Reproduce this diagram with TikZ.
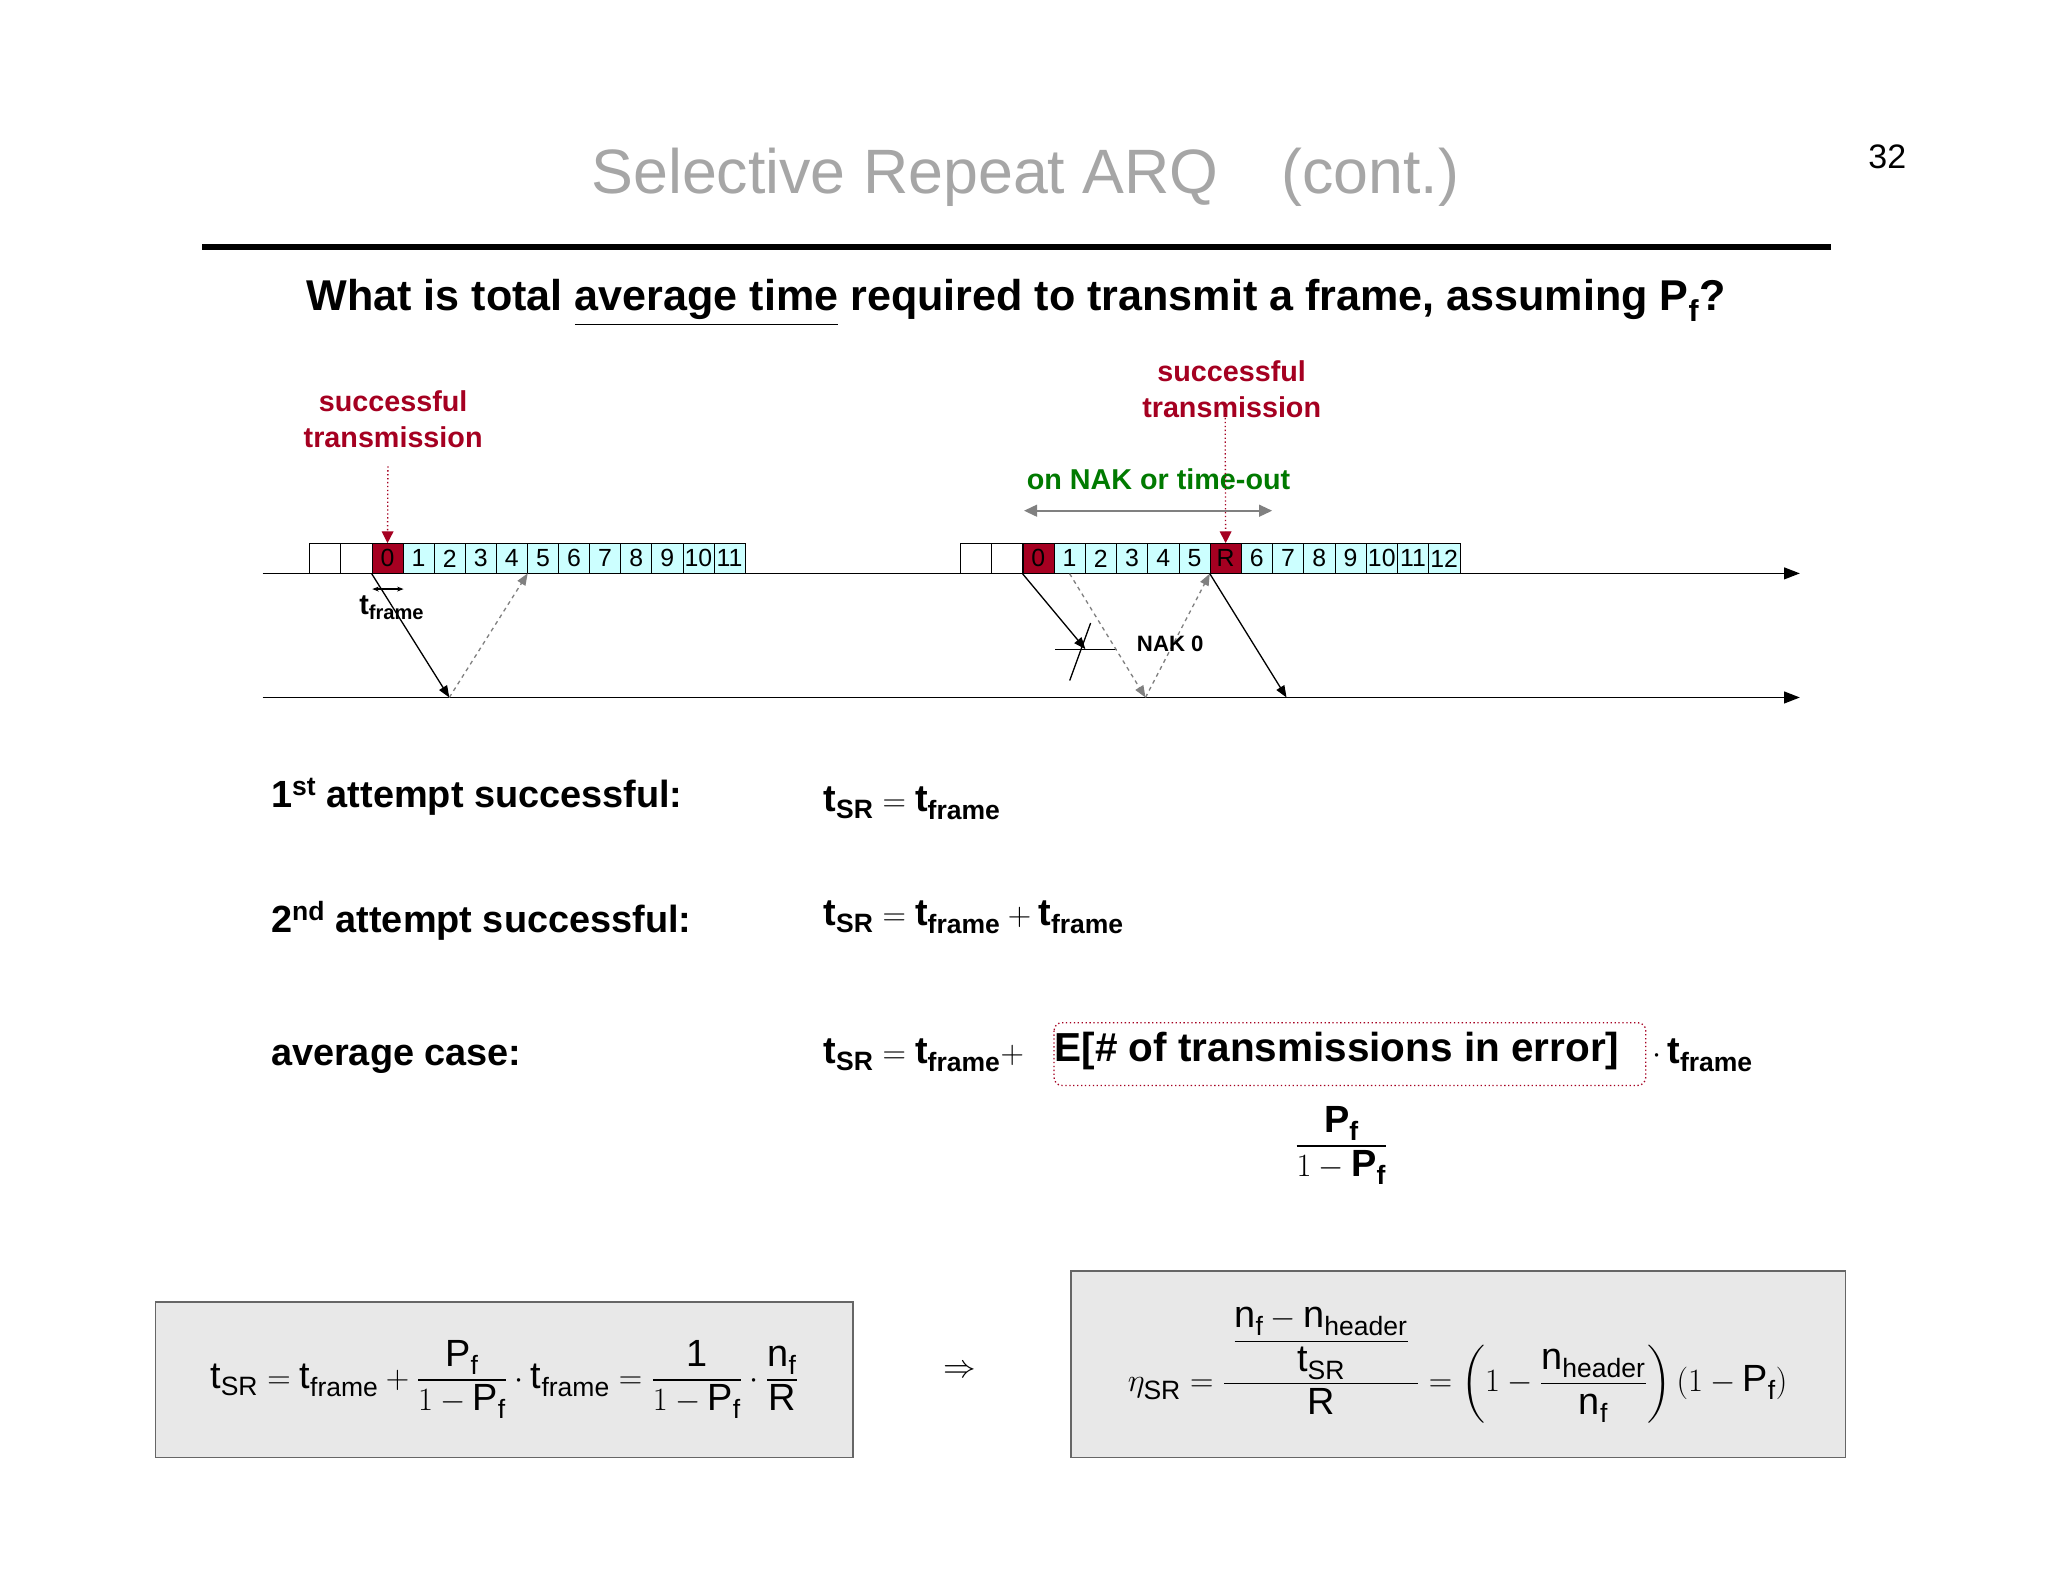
\documentclass[tikz,border=0pt]{standalone}
\usepackage{fontspec}
\usepackage{amsmath}
\setmainfont{Liberation Sans}
\usetikzlibrary{arrows.meta}
\definecolor{dred}{HTML}{A50021}
\definecolor{dgreen}{HTML}{007A00}
\definecolor{cyanf}{HTML}{CCFFFF}
\definecolor{tgray}{HTML}{A6A6A6}
\definecolor{boxg}{HTML}{E8E8E8}
\newcommand{\fs}[1]{\fontsize{#1}{#1}\selectfont}
\newcommand{\tx}[1]{\text{#1}}
\begin{document}
\begin{tikzpicture}[x=1pt,y=-1pt,
  cellb/.style={draw,minimum width=23.9pt,minimum height=23pt,inner sep=0pt,fill=cyanf,font=\fs{19}},
  cellw/.style={cellb,fill=white},
  cellr/.style={cellb,fill=dred},
  redlbl/.style={text=dred,font=\fs{22}\bfseries,align=center},
  solidarr/.style={-{Triangle[length=9pt,width=7pt]},line width=1pt},
  dasharr/.style={-{Triangle[length=9pt,width=7pt]},gray,dashed,line width=1pt},
  fbox/.style={draw=gray!80!black,fill=boxg,line width=1.2pt}]
\useasboundingbox (0,0) rectangle (1568,1211);
\fill[white] (0,0) rectangle (1568,1211);
\node[text=tgray,font=\fs{48}] (title) at (785,136) {Selective Repeat ARQ\quad (cont.)};
\node[font=\fs{26}\rmfamily] (pg) at (1445,120) {32};
\draw[line width=5pt] (155,189) -- (1402,189);
\node[font=\fs{33}\bfseries] (q) at (778,232) {What is total \underline{average time} required to transmit a frame, assuming P$_{\tx{f}}$?};
% timelines
\coordinate (t0) at (201,439); \coordinate (t1) at (1378,439);
\coordinate (b0) at (201,534); \coordinate (b1) at (1378,534);
\draw[-{Triangle[length=12pt,width=9pt]},line width=1.2pt] (t0) -- (t1);
\draw[-{Triangle[length=12pt,width=9pt]},line width=1.2pt] (b0) -- (b1);
% left cells
\node[cellw] (L0) at (249,427.5) {};
\node[cellw] (L1) at (272.8,427.5) {};
\node[cellr] (Lc0) at (296.7,427.5) {0};
\foreach \i in {1,...,11} {\node[cellb] (Lc\i) at ({296.7+23.8*\i},427.5) {\i};}
% right cells
\node[cellw] (R0) at (747,427.5) {};
\node[cellw] (R1) at (771,427.5) {};
\node[cellr] (Rc0) at (795,427.5) {0};
\foreach \i in {1,...,5} {\node[cellb] (Rc\i) at ({795+23.9*\i},427.5) {\i};}
\node[cellr] (RR) at (938.4,427.5) {R};
\foreach \i/\k in {6/1,7/2,8/3,9/4,10/5,11/6,12/7} {\node[cellb] (Rc\i) at ({938.4+23.9*\k},427.5) {\i};}
% left labels
\node[redlbl] (s1) at (301,321) {successful\\[6pt]transmission};
\coordinate (a1) at (297,357);
\draw[dred,dotted,line width=1pt,-{Triangle[length=9pt,width=9pt]}] (a1) -- (Lc0.north);
\draw[{Stealth[length=5pt]}-{Stealth[length=5pt]},line width=1pt] (285,451) -- (309,451);
\node[font=\fs{22}\bfseries] (tf) at (300,465) {t$_{\text{frame}}$};
\coordinate (p1) at (344,534); \coordinate (p2) at (404,439);
\draw[solidarr] (Lc0.south west) -- (p1);
\draw[dasharr] (p1) -- (p2);
% right labels
\node[redlbl] (s2) at (943,298) {successful\\[6pt]transmission};
\node[text=dgreen,font=\fs{22}\bfseries] (nak) at (887,367) {on NAK or time-out};
\coordinate (g0) at (784,391); \coordinate (g1) at (974,391);
\draw[gray,line width=1.5pt,{Triangle[length=10pt,width=9pt]}-{Triangle[length=10pt,width=9pt]}] (g0) -- (g1);
\coordinate (a2) at (938,320);
\draw[dred,dotted,line width=1pt,-{Triangle[length=9pt,width=9pt]}] (a2) -- (RR.north);
\coordinate (lost) at (831,497);
\draw[solidarr] (Rc0.south west) -- (lost);
\coordinate (x0) at (808,497); \coordinate (x1) at (855,497);
\coordinate (x2) at (835,477); \coordinate (x3) at (819,521);
\draw[line width=1pt] (x0) -- (x1); \draw[line width=1pt] (x2) -- (x3);
\coordinate (p3) at (877,534); \coordinate (p4) at (985,534);
\draw[dasharr] (Rc1.south) -- (p3);
\draw[dasharr] (p3) -- (RR.south west);
\draw[solidarr] (RR.south west) -- (p4);
\node[font=\fs{17}\bfseries] (nk) at (896,493) {NAK 0};
% equations
\begin{scope}[every node/.style={font=\fs{29}\bfseries,anchor=west}]
\node (e1) at (204,610) {1$^{\text{st}}$ attempt successful:};
\node (e2) at (204,705) {2$^{\text{nd}}$ attempt successful:};
\node (e3) at (204,811) {average case:};
\node (f1) at (627,615) {$\tx{t}_{\tx{SR}} = \tx{t}_{\tx{frame}}$};
\node (f2) at (627,702) {$\tx{t}_{\tx{SR}} = \tx{t}_{\tx{frame}} + \tx{t}_{\tx{frame}}$};
\node (f3a) at (627,808) {$\tx{t}_{\tx{SR}} = \tx{t}_{\tx{frame}} +$};
\node[font=\fs{31}\bfseries] (f3b) at (804,805) {E[\# of transmissions in error]};
\node (f3c) at (1262,808) {$\cdot\,\tx{t}_{\tx{frame}}$};
\end{scope}
\draw[dred,dotted,line width=1pt,rounded corners=6pt] (807,783) rectangle (1260,831);
\node[font=\fs{29}\bfseries] (f3d) at (1027,877) {$\dfrac{\tx{P}_{\tx{f}}}{1-\tx{P}_{\tx{f}}}$};
% bottom boxes
\draw[fbox] (119,997) rectangle (653,1116);
\node[font=\fs{29}] (bl) at (386,1056) {$\tx{t}_{\tx{SR}} = \tx{t}_{\tx{frame}} + \dfrac{\tx{P}_{\tx{f}}}{1-\tx{P}_{\tx{f}}}\cdot \tx{t}_{\tx{frame}} = \dfrac{\tx{1}}{1-\tx{P}_{\tx{f}}}\cdot\dfrac{\tx{n}_{\tx{f}}}{\tx{R}}$};
\node[font=\fs{44}] (imp) at (735,1050) {$\Rightarrow$};
\draw[fbox] (820,973) rectangle (1413,1116);
\node[font=\fs{29}] (br) at (1116,1045) {$\eta_{\tx{SR}} = \dfrac{\;\dfrac{\tx{n}_{\tx{f}} - \tx{n}_{\tx{header}}}{\tx{t}_{\tx{SR}}}\;}{\tx{R}} = \left(1-\dfrac{\tx{n}_{\tx{header}}}{\tx{n}_{\tx{f}}}\right)(1-\tx{P}_{\tx{f}})$};
\end{tikzpicture}
\end{document}
